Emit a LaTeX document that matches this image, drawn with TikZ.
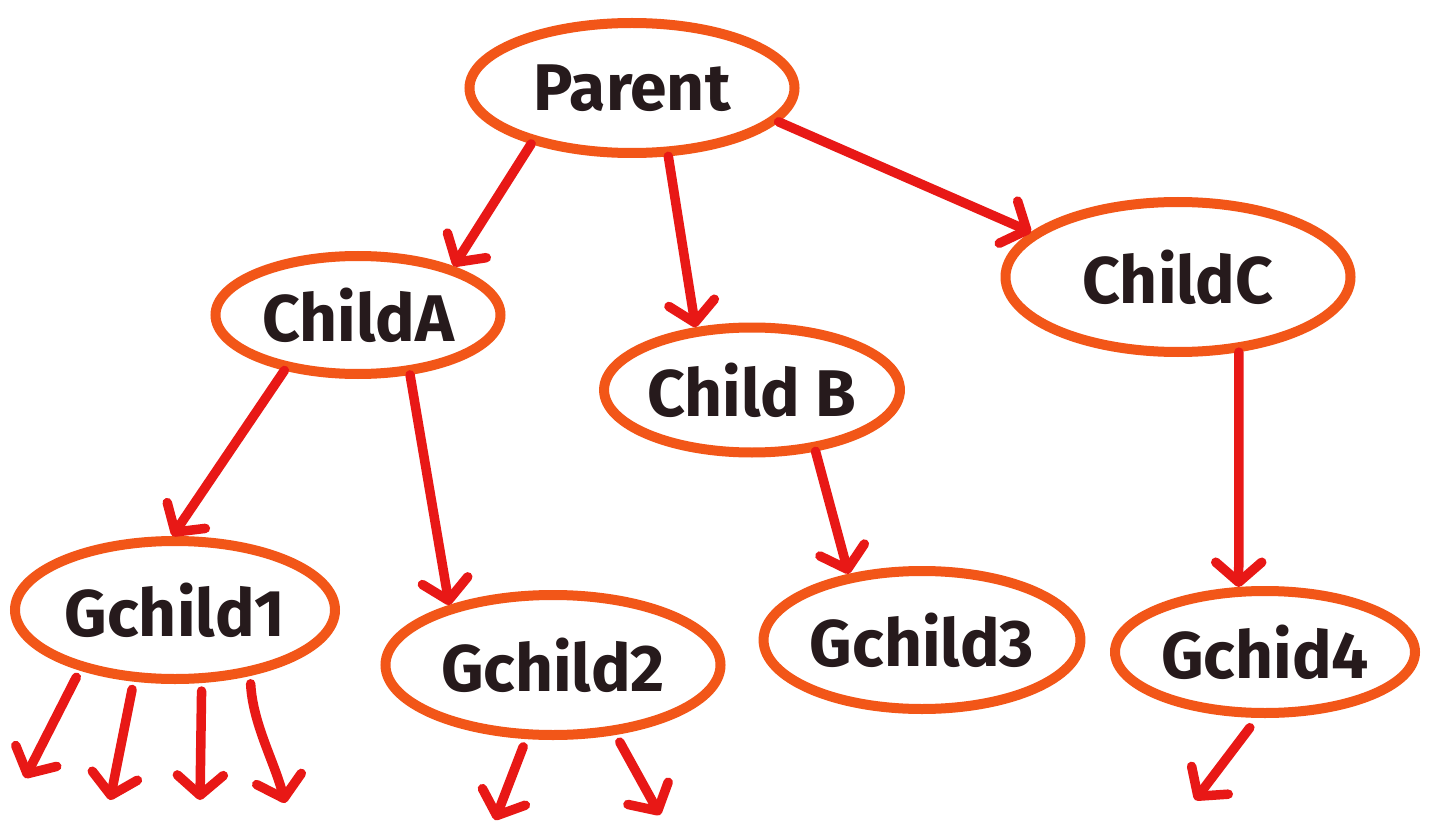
\documentclass[tikz,border=0pt]{standalone}
\usepackage{fontspec}
\setmainfont{Fira Sans}
\usetikzlibrary{shapes.geometric,arrows.meta}
\definecolor{ringc}{RGB}{242,86,24}
\definecolor{arrc}{RGB}{232,24,22}
\definecolor{inkc}{RGB}{38,26,28}
\tikzset{
  ell/.style={ellipse, draw=ringc, line width=10pt, inner sep=0pt, text=inkc,
    font=\fontsize{66}{70}\selectfont\bfseries},
  arr/.style={draw=arrc, line width=9.5pt, line cap=round,
    -{Straight Barb[length=20pt,width=46pt,line width=9.5pt,round]}}
}
\begin{document}
\begin{tikzpicture}[x=1pt,y=-1pt]
\useasboundingbox[fill=white] (0,0) rectangle (1430,829);
\node[ell, minimum width=325pt, minimum height=130pt] (P) at (632,88) {Parent};
\node[ell, minimum width=285pt, minimum height=118pt] (A) at (358,315) {ChildA};
\node[ell, minimum width=275pt, minimum height=125pt] (B) at (752,390) {Child B};
\node[ell, minimum width=345pt, minimum height=150pt] (C) at (1178,277) {ChildC};
\node[ell, minimum width=320pt, minimum height=138pt] (G1) at (175,610) {Gchild1};
\node[ell, minimum width=335pt, minimum height=140pt] (G2) at (553,665) {Gchild2};
\node[ell, minimum width=305pt, minimum height=138pt] (G3) at (922,640) {Gchild3};
\node[ell, minimum width=300pt, minimum height=122pt] (G4) at (1265,652) {Gchid4};
\coordinate (e1) at (25,778);
\coordinate (e2) at (110,800);
\coordinate (e3) at (200,800);
\coordinate (e4) at (285,803);
\coordinate (e5) at (495,820);
\coordinate (e6) at (660,815);
\coordinate (e7) at (1195,800);
\draw[arr] (P.209) -- (A.27);
\draw[arr] (P.298) -- (B.132);
\draw[arr] (P.347) -- (C.163);
\draw[arr] (A.217) -- (G1.92);
\draw[arr] (A.311) -- (G2.150);
\draw[arr] (B.316) -- (G3.138);
\draw[arr] (C.309) -- (G4.112);
\draw[arr] ([yshift=-8pt]G1.211) -- (e1);
\draw[arr] ([yshift=-8pt]G1.239) -- (e2);
\draw[arr] ([yshift=-8pt]G1.290) -- (e3);
\draw[arr] ([yshift=-8pt]G1.319) .. controls +(2,40) and +(-10,-40) .. (e4);
\draw[arr] ([yshift=-8pt]G2.248) -- (e5);
\draw[arr] ([yshift=-8pt]G2.314) -- (e6);
\draw[arr] ([yshift=-10pt]G4.257) -- (e7);
\end{tikzpicture}
\end{document}
